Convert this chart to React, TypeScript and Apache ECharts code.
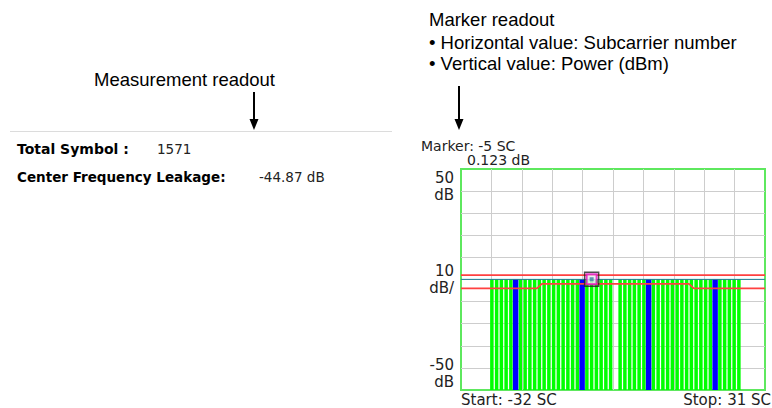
import React, { useEffect, useRef } from "react";
import * as echarts from "echarts";

// ---- data ----
const subcarriers = [
  -26, -25, -24, -23, -22, -21, -20, -19, -18, -17, -16, -15, -14,
  -13, -12, -11, -10, -9, -8, -7, -6, -5, -4, -3, -2, -1,
  1, 2, 3, 4, 5, 6, 7, 8, 9, 10, 11, 12, 13,
  14, 15, 16, 17, 18, 19, 20, 21, 22, 23, 24, 25, 26,
];
const powerDb = [
  0.09, 0.11, 0.1, 0.08, 0.12, 0.1, 0.09, 0.11, 0.1, 0.12, 0.08, 0.1, 0.11,
  0.09, 0.1, 0.12, 0.11, 0.08, 0.1, 0.09, 0.11, 0.123, 0.1, 0.09, 0.11, 0.1,
  0.1, 0.12, 0.09, 0.11, 0.1, 0.08, 0.12, 0.1, 0.09, 0.11, 0.1, 0.12, 0.09,
  0.11, 0.1, 0.08, 0.12, 0.1, 0.09, 0.11, 0.1, 0.12, 0.08, 0.1, 0.11, 0.09,
];
const pilotSubcarriers = [-21, -7, 7, 21];
const upperMaskX = [-32.5, 31.5];
const upperMaskY = [2, 2];
const lowerMaskX = [-32.5, -16.5, -15.5, 15.5, 16.5, 31.5];
const lowerMaskY = [-4, -4, -2, -2, -4, -4];
const referenceLevel = 0.05;
const markerSC = -5;
const markerDb = 0.123;
const startSC = -32;
const stopSC = 31;
const yLabelValues = [50, 0, -50];
const yLabelTexts = ["50\ndB", "10\ndB/", "-50\ndB"];
const totalSymbol = 1571;
const centerFreqLeakage = -44.87;

const SANS = '"Liberation Sans", Arial, Helvetica, sans-serif';
const SCREEN = '"DejaVu Sans", Verdana, sans-serif';

export default function App() {
  const ref = useRef<HTMLDivElement>(null);
  useEffect(() => {
    if (!ref.current) return;
    const chart = echarts.init(ref.current, undefined, { renderer: "svg" });

    const normal = subcarriers
      .map((sc, i) => [sc, powerDb[i]])
      .filter((d) => !pilotSubcarriers.includes(d[0]));
    const pilots = subcarriers
      .map((sc, i) => [sc, powerDb[i]])
      .filter((d) => pilotSubcarriers.includes(d[0]));

    const barRender = (ratio: number, color: string) => (params: any, api: any) => {
      const x = api.value(0);
      const y = api.value(1);
      const top = api.coord([x, y]);
      const base = api.coord([x, -50]);
      const bw = api.size([1, 0])[0] * ratio;
      return {
        type: "rect",
        shape: { x: top[0] - bw / 2, y: top[1], width: bw, height: base[1] - top[1] },
        style: { fill: color },
      };
    };

    const option: any = {
      animation: false,
      grid: {
        left: 461,
        top: 169,
        right: 7,
        bottom: 18,
        show: true,
        borderColor: "#5ee85e",
        borderWidth: 2,
        backgroundColor: "#ffffff",
      },
      xAxis: [
        {
          type: "value",
          min: startSC - 0.5,
          max: stopSC + 0.5,
          axisLine: { show: false },
          axisTick: { show: false },
          axisLabel: { show: false },
          splitLine: { show: false },
        },
        {
          type: "value",
          min: 0,
          max: 10,
          interval: 1,
          axisLine: { show: false },
          axisTick: { show: false },
          axisLabel: { show: false },
          splitLine: {
            show: true,
            showMinLine: false,
            showMaxLine: false,
            lineStyle: { color: "#cdcdcd", width: 1 },
          },
        },
      ],
      yAxis: {
        type: "value",
        min: -50,
        max: 50,
        interval: 10,
        axisLine: { show: false },
        axisTick: { show: false },
        splitLine: {
          show: true,
          showMinLine: false,
          showMaxLine: false,
          lineStyle: { color: "#cdcdcd", width: 1 },
        },
        axisLabel: {
          margin: 7,
          color: "#222",
          fontFamily: SCREEN,
          fontSize: 15,
          lineHeight: 17,
          verticalAlignMaxLabel: "top",
          verticalAlignMinLabel: "bottom",
          formatter: (v: number) => {
            const i = yLabelValues.indexOf(v);
            return i >= 0 ? yLabelTexts[i] : "";
          },
        },
      },
      series: [
        {
          type: "custom",
          xAxisIndex: 0,
          renderItem: barRender(0.74, "#00ff00"),
          data: normal,
          z: 2,
          silent: true,
        },
        {
          type: "custom",
          xAxisIndex: 0,
          renderItem: barRender(1.15, "#0000ff"),
          data: pilots,
          z: 3,
          silent: true,
        },
        {
          type: "line",
          xAxisIndex: 0,
          data: [
            [startSC - 0.5, referenceLevel],
            [stopSC + 0.5, referenceLevel],
          ],
          showSymbol: false,
          lineStyle: { color: "#1f7f95", width: 1 },
          z: 4,
          silent: true,
        },
        {
          type: "line",
          xAxisIndex: 0,
          data: upperMaskX.map((x, i) => [x, upperMaskY[i]]),
          showSymbol: false,
          lineStyle: { color: "#ff4040", width: 1.6 },
          z: 5,
          silent: true,
        },
        {
          type: "line",
          xAxisIndex: 0,
          data: lowerMaskX.map((x, i) => [x, lowerMaskY[i]]),
          showSymbol: false,
          lineStyle: { color: "#ff4040", width: 1.6 },
          z: 5,
          silent: true,
        },
        {
          type: "scatter",
          xAxisIndex: 0,
          data: [[markerSC, markerDb]],
          symbol: "rect",
          symbolSize: 14,
          itemStyle: { color: "rgba(0,0,0,0)", borderColor: "#222", borderWidth: 1.5 },
          z: 6,
          silent: true,
        },
        {
          type: "scatter",
          xAxisIndex: 0,
          data: [[markerSC, markerDb]],
          symbol: "rect",
          symbolSize: 10,
          itemStyle: { color: "#e8e8f0", borderColor: "#e010c0", borderWidth: 2 },
          z: 7,
          silent: true,
        },
        {
          type: "scatter",
          xAxisIndex: 0,
          data: [[markerSC, markerDb]],
          symbol: "rect",
          symbolSize: 4,
          itemStyle: { color: "#3a7fa0" },
          z: 8,
          silent: true,
        },
      ],
      graphic: [
        // right annotation
        {
          type: "text",
          x: 429,
          y: 19,
          style: { text: "Marker readout", font: `18.5px ${SANS}`, fill: "#000", verticalAlign: "middle" },
        },
        {
          type: "text",
          x: 429,
          y: 42,
          style: {
            text: "\u2022 Horizontal value: Subcarrier number",
            font: `18.5px ${SANS}`,
            fill: "#000",
            verticalAlign: "middle",
          },
        },
        {
          type: "text",
          x: 429,
          y: 63,
          style: {
            text: "\u2022 Vertical value: Power (dBm)",
            font: `18.5px ${SANS}`,
            fill: "#000",
            verticalAlign: "middle",
          },
        },
        { type: "line", shape: { x1: 459, y1: 86, x2: 459, y2: 121 }, style: { stroke: "#000", lineWidth: 2 } },
        { type: "polygon", shape: { points: [[454.5, 119], [463.5, 119], [459, 130]] }, style: { fill: "#000" } },
        // left annotation
        {
          type: "text",
          x: 94,
          y: 79,
          style: { text: "Measurement readout", font: `18.5px ${SANS}`, fill: "#000", verticalAlign: "middle" },
        },
        { type: "line", shape: { x1: 254, y1: 92, x2: 254, y2: 121 }, style: { stroke: "#000", lineWidth: 2 } },
        { type: "polygon", shape: { points: [[249.5, 119], [258.5, 119], [254, 130]] }, style: { fill: "#000" } },
        { type: "line", shape: { x1: 10, y1: 131.5, x2: 392, y2: 131.5 }, style: { stroke: "#dcdcdc", lineWidth: 1 } },
        {
          type: "text",
          x: 17,
          y: 149,
          style: { text: "Total Symbol :", font: `bold 14px ${SCREEN}`, fill: "#000", verticalAlign: "middle" },
        },
        {
          type: "text",
          x: 157,
          y: 149,
          style: { text: String(totalSymbol), font: `13.5px ${SCREEN}`, fill: "#222", verticalAlign: "middle" },
        },
        {
          type: "text",
          x: 17,
          y: 177,
          style: { text: "Center Frequency Leakage:", font: `bold 13.5px ${SCREEN}`, fill: "#000", verticalAlign: "middle" },
        },
        {
          type: "text",
          x: 259,
          y: 177,
          style: {
            text: `${centerFreqLeakage.toFixed(2)} dB`,
            font: `13.5px ${SCREEN}`,
            fill: "#222",
            verticalAlign: "middle",
          },
        },
        // chart readouts
        {
          type: "text",
          x: 421,
          y: 146,
          style: { text: `Marker: ${markerSC} SC`, font: `14px ${SCREEN}`, fill: "#222", verticalAlign: "middle" },
        },
        {
          type: "text",
          x: 467,
          y: 160,
          style: { text: `${markerDb.toFixed(3)} dB`, font: `14px ${SCREEN}`, fill: "#222", verticalAlign: "middle" },
        },
        {
          type: "text",
          x: 461,
          y: 400,
          style: { text: `Start: ${startSC} SC`, font: `15px ${SCREEN}`, fill: "#222", verticalAlign: "middle" },
        },
        {
          type: "text",
          x: 771,
          y: 400,
          style: {
            text: `Stop: ${stopSC} SC`,
            font: `15px ${SCREEN}`,
            fill: "#222",
            verticalAlign: "middle",
            align: "right",
          },
        },
      ],
    };
    chart.setOption(option);
    return () => chart.dispose();
  }, []);
  return (
    <div
      ref={ref}
      style={{ position: "fixed", left: 0, top: 0, width: 772, height: 408, background: "#fff" }}
    />
  );
}
